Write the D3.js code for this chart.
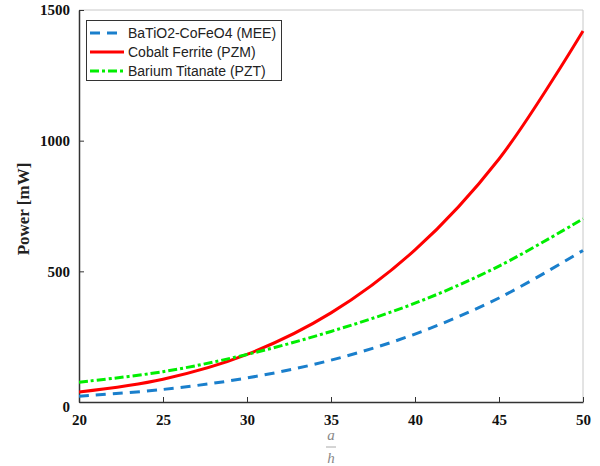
<!DOCTYPE html>
<html>
<head>
<meta charset="utf-8">
<script src="https://cdn.jsdelivr.net/npm/d3@7"></script>
<style>
  body { margin: 0; background: #fff; }
  svg { display: block; }
</style>
</head>
<body>
<script>
const w = 600;
const h = 466;

// a/h values
const ratio = [20, 25, 30, 35, 40, 45, 50];
// power [mW]
const mee = [22, 48, 92, 160, 260, 398, 580];
const pzm = [38, 87, 182, 341, 582, 930, 1420];
const pzt = [76, 116, 182, 270, 378, 520, 701];

const xTicks = [20, 25, 30, 35, 40, 45, 50];
const yTicks = [0, 500, 1000, 1500];
const seriesNames = ["BaTiO2-CoFeO4 (MEE)", "Cobalt Ferrite (PZM)", "Barium Titanate (PZT)"];

const padL = 79, padR = 583, padT = 10, padB = 402;

const svg = d3.select("body").append("svg").attr("width", w).attr("height", h);

const xScale = d3.scaleLinear().domain([20, 50]).range([padL, padR]);
const yScale = d3.scaleLinear().domain([0, 1500]).range([padB, padT]);

// box (top/right light)
svg.append("path")
  .attr("d", `M${padL},${padT}H${padR}V${padB}`)
  .attr("fill", "none")
  .attr("stroke", "#c8c8c8")
  .attr("stroke-width", 1);

const xAxis = d3.axisBottom(xScale).tickValues(xTicks).tickFormat(d3.format("d"))
  .tickSizeInner(-5).tickSizeOuter(0).tickPadding(12);
const yAxis = d3.axisLeft(yScale).tickValues(yTicks).tickFormat(d3.format("d"))
  .tickSizeInner(-5).tickSizeOuter(0).tickPadding(9);

const gx = svg.append("g").attr("transform", `translate(0,${padB})`).call(xAxis);
const gy = svg.append("g").attr("transform", `translate(${padL},0)`).call(yAxis);

[gx, gy].forEach((g) => {
  g.select(".domain").attr("stroke", "#333").attr("stroke-width", 1.5);
  g.selectAll(".tick line").attr("stroke", "#333");
  g.selectAll(".tick text")
    .attr("fill", "#111")
    .style("font-family", "'Liberation Serif', 'Times New Roman', serif")
    .style("font-weight", "bold")
    .style("font-size", "15px");
});
gy.selectAll(".tick text").attr("dy", (d) => (d === 0 ? "0.6em" : "0.32em"));

// y label
svg.append("text")
  .attr("transform", "translate(29,209) rotate(-90)")
  .attr("text-anchor", "middle")
  .style("font-family", "'Liberation Serif', 'Times New Roman', serif")
  .style("font-weight", "bold")
  .style("font-size", "17px")
  .attr("fill", "#222")
  .text("Power [mW]");

// x label a/h
const cx = xScale(35);
svg.append("text")
  .attr("x", cx).attr("y", 440)
  .attr("text-anchor", "middle")
  .style("font-family", "'Liberation Serif', 'Times New Roman', serif")
  .style("font-style", "italic")
  .style("font-size", "15px")
  .attr("fill", "#888")
  .text("a");
svg.append("line")
  .attr("x1", cx - 5).attr("x2", cx + 5)
  .attr("y1", 447).attr("y2", 447)
  .attr("stroke", "#aaa").attr("stroke-width", 1);
svg.append("text")
  .attr("x", cx).attr("y", 463)
  .attr("text-anchor", "middle")
  .style("font-family", "'Liberation Serif', 'Times New Roman', serif")
  .style("font-style", "italic")
  .style("font-size", "15px")
  .attr("fill", "#888")
  .text("h");

const styles = [
  { color: "#1a7fcc", dash: "10,7" },
  { color: "#ff0000", dash: null },
  { color: "#00ee00", dash: "9,3,3,3" },
];
const allSeries = [mee, pzm, pzt];

const line = d3.line()
  .x((d, i) => xScale(ratio[i]))
  .y((d) => yScale(d))
  .curve(d3.curveCatmullRom.alpha(0.5));

svg.append("clipPath").attr("id", "clip")
  .append("rect").attr("x", padL).attr("y", padT - 2)
  .attr("width", padR - padL + 2).attr("height", padB - padT + 2);

allSeries.forEach((s, k) => {
  svg.append("path")
    .datum(s)
    .attr("clip-path", "url(#clip)")
    .attr("fill", "none")
    .attr("stroke", styles[k].color)
    .attr("stroke-width", 3)
    .attr("stroke-dasharray", styles[k].dash)
    .attr("d", line);
});

// legend
const lg = svg.append("g");
lg.append("rect")
  .attr("x", 86.5).attr("y", 20.5)
  .attr("width", 195).attr("height", 60)
  .attr("fill", "#fff").attr("stroke", "#333").attr("stroke-width", 1);
seriesNames.forEach((name, k) => {
  const yy = 33 + k * 19;
  lg.append("line")
    .attr("x1", 90).attr("x2", 124)
    .attr("y1", yy).attr("y2", yy)
    .attr("stroke", styles[k].color)
    .attr("stroke-width", 3)
    .attr("stroke-dasharray", styles[k].dash);
  lg.append("text")
    .attr("x", 128).attr("y", yy)
    .attr("dy", "0.35em")
    .style("font-family", "'Liberation Sans', Arial, sans-serif")
    .style("font-size", "14px")
    .attr("fill", "#222")
    .text(name);
});
</script>
</body>
</html>
